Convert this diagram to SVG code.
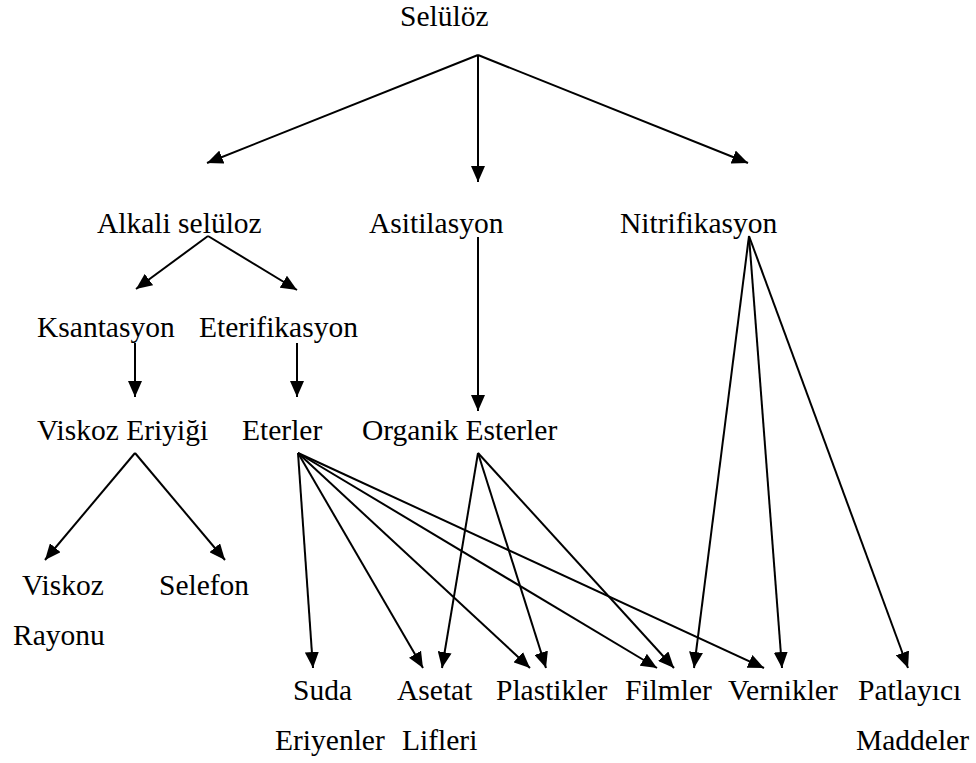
<svg xmlns="http://www.w3.org/2000/svg" width="976" height="763" viewBox="0 0 976 763">
  <style>
    text { font-family: "Liberation Serif", "Times New Roman", serif; font-size: 29.5px; fill: #000; }
    .edge { stroke: #000; stroke-width: 2; fill: none; marker-end: url(#arrow); }
  </style>
  <defs>
    <marker id="arrow" viewBox="0 0 16 14" markerWidth="16" markerHeight="14" refX="16" refY="7" orient="auto" markerUnits="userSpaceOnUse">
      <path d="M0,0 L16,7 L0,14 z" fill="#000"/>
    </marker>
  </defs>
  <rect width="976" height="763" fill="#fff"/>

  <!-- nodes -->
  <g id="nodes">
    <g id="seluloz"><text x="400" y="26">Selülöz</text></g>
    <g id="alkali-seluloz"><text x="97" y="233">Alkali selüloz</text></g>
    <g id="asitilasyon"><text x="369" y="233">Asitilasyon</text></g>
    <g id="nitrifikasyon"><text x="620" y="233">Nitrifikasyon</text></g>
    <g id="ksantasyon"><text x="37" y="337">Ksantasyon</text></g>
    <g id="eterifikasyon"><text x="199" y="337">Eterifikasyon</text></g>
    <g id="viskoz-eriyigi"><text x="37" y="440">Viskoz Eriyiği</text></g>
    <g id="eterler"><text x="242" y="440">Eterler</text></g>
    <g id="organik-esterler"><text x="362" y="440">Organik Esterler</text></g>
    <g id="viskoz-rayonu">
      <text x="22" y="595">Viskoz</text>
      <text x="13" y="645">Rayonu</text>
    </g>
    <g id="selefon"><text x="159" y="595">Selefon</text></g>
    <g id="suda-eriyenler">
      <text x="293" y="700">Suda</text>
      <text x="275" y="750">Eriyenler</text>
    </g>
    <g id="asetat-lifleri">
      <text x="397" y="700">Asetat</text>
      <text x="402" y="750">Lifleri</text>
    </g>
    <g id="plastikler"><text x="496" y="700">Plastikler</text></g>
    <g id="filmler"><text x="625" y="700">Filmler</text></g>
    <g id="vernikler"><text x="728" y="700">Vernikler</text></g>
    <g id="patlayici-maddeler">
      <text x="858" y="700">Patlayıcı</text>
      <text x="856" y="750">Maddeler</text>
    </g>
  </g>

  <!-- connectors -->
  <g id="connectors">
    <line class="edge" x1="478" y1="55" x2="207" y2="163"/>
    <line class="edge" x1="478" y1="55" x2="478" y2="182"/>
    <line class="edge" x1="478" y1="55" x2="748" y2="163"/>

    <line class="edge" x1="208" y1="236" x2="136" y2="289"/>
    <line class="edge" x1="208" y1="236" x2="297" y2="290"/>
    <line class="edge" x1="478" y1="237" x2="478" y2="411"/>

    <line class="edge" x1="135" y1="343" x2="135" y2="397"/>
    <line class="edge" x1="297" y1="343" x2="297" y2="397"/>

    <line class="edge" x1="135" y1="453" x2="45" y2="560"/>
    <line class="edge" x1="135" y1="453" x2="225" y2="560"/>

    <line class="edge" x1="298" y1="453" x2="313" y2="668"/>
    <line class="edge" x1="298" y1="453" x2="423" y2="668"/>
    <line class="edge" x1="298" y1="453" x2="530" y2="668"/>
    <line class="edge" x1="298" y1="453" x2="657" y2="668"/>
    <line class="edge" x1="298" y1="453" x2="764" y2="668"/>

    <line class="edge" x1="478" y1="453" x2="442" y2="668"/>
    <line class="edge" x1="478" y1="453" x2="546" y2="668"/>
    <line class="edge" x1="478" y1="453" x2="674" y2="668"/>

    <line class="edge" x1="749" y1="236" x2="694" y2="668"/>
    <line class="edge" x1="749" y1="236" x2="782" y2="668"/>
    <line class="edge" x1="749" y1="236" x2="908" y2="668"/>
  </g>
</svg>
